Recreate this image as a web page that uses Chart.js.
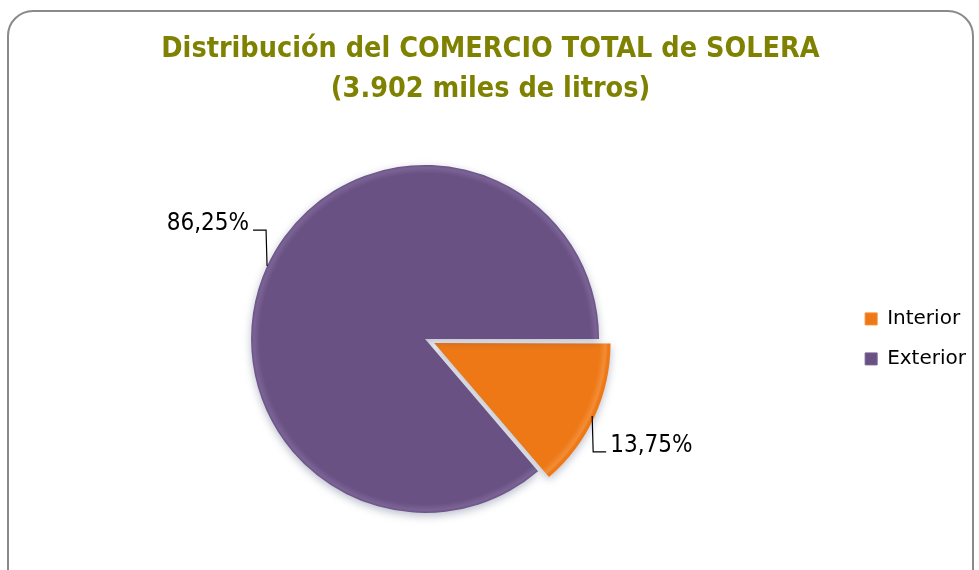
<!DOCTYPE html>
<html>
<head>
<meta charset="utf-8">
<title>Distribución del COMERCIO TOTAL de SOLERA</title>
<script src="https://cdn.jsdelivr.net/npm/chart.js@4/dist/chart.umd.min.js"></script>
<style>
  html, body { margin: 0; padding: 0; background: #fff; overflow: hidden; }
  #frame {
    position: absolute; left: 7px; top: 10px;
    width: 963px; height: 590px;
    border: 2px solid #8a8a8a; border-radius: 26px;
  }
  #the_chart { position: absolute; left: 0; top: 0; }
</style>
</head>
<body>
<div id="frame"></div>
<canvas id="the_chart" width="979" height="570"></canvas>
<script>
// chart data
const categories = ['Interior', 'Exterior'];
const shares = [13.75, 86.25]; // % of 3.902 miles de litros
const sliceColors = ['#EE7815', '#6A5183'];
const rimColors = ['#F28D36', '#7A6396'];
const sliceOffsets = [40, 0]; // Interior is pulled out (chart.js moves it offset/4)

const titleLines = ['Distribución del COMERCIO TOTAL de SOLERA', '(3.902 miles de litros)'];

const pieRadius = 174;

// bevel look: flat colour with a soft lighter rim
function sliceFill(context) {
    const chart = context.chart;
    const i = context.dataIndex;
    const area = chart.chartArea;
    if (!area) return sliceColors[i];
    const cx = (area.left + area.right) / 2;
    const cy = (area.top + area.bottom) / 2;
    const g = chart.ctx.createRadialGradient(cx, cy, 0, cx, cy, pieRadius);
    g.addColorStop(0, sliceColors[i]);
    g.addColorStop(0.95, sliceColors[i]);
    g.addColorStop(0.985, rimColors[i]);
    g.addColorStop(1, sliceColors[i]);
    return g;
}

// Excel style labels with a bent leader line
const pieLabels = {
    id: 'pieLabels',
    afterDatasetsDraw(chart) {
        const ctx = chart.ctx;
        const meta = chart.getDatasetMeta(0);
        ctx.save();
        ctx.font = '24px "DejaVu Sans Condensed"';
        ctx.fillStyle = '#000';
        ctx.strokeStyle = '#000';
        ctx.lineWidth = 1.2;
        ctx.textBaseline = 'middle';
        meta.data.forEach((arc, i) => {
            const p = arc.getProps(['x', 'y', 'startAngle', 'endAngle', 'outerRadius'], true);
            const mid = (p.startAngle + p.endAngle) / 2;
            const off = (arc.options.offset || 0) / 4;
            const cos = Math.cos(mid), sin = Math.sin(mid);
            const ex = p.x + cos * (off + p.outerRadius);
            const ey = p.y + sin * (off + p.outerRadius);
            const dirX = cos < 0 ? -1 : 1;
            const dirY = sin < 0 ? -1 : 1;
            const kx = ex + dirX * 1;
            const ky = ey + dirY * 36;
            const hx = kx + dirX * 13;
            ctx.beginPath();
            ctx.moveTo(ex, ey);
            ctx.lineTo(kx, ky);
            ctx.lineTo(hx, ky);
            ctx.stroke();
            const txt = shares[i].toFixed(2).replace('.', ',') + '%';
            ctx.textAlign = dirX < 0 ? 'right' : 'left';
            ctx.fillText(txt, hx + dirX * 4, ky - 6);
        });
        ctx.restore();
    }
};

// soft shadow under the pie
const pieShadow = {
    id: 'pieShadow',
    beforeDatasetsDraw(chart) {
        const ctx = chart.ctx;
        ctx.save();
        ctx.shadowColor = 'rgba(60, 70, 110, 0.35)';
        ctx.shadowBlur = 8;
        ctx.shadowOffsetY = 3;
    },
    afterDatasetsDraw(chart) {
        chart.ctx.restore();
    }
};

const theChart = new Chart(document.getElementById('the_chart'), {
    type: 'pie',
    data: {
        labels: categories,
        datasets: [{
            data: shares,
            backgroundColor: sliceFill,
            borderWidth: 0,
            offset: sliceOffsets
        }]
    },
    options: {
        responsive: false,
        animation: false,
        devicePixelRatio: 1,
        rotation: 90,
        radius: pieRadius,
        layout: { padding: { left: 5, right: 3, top: 0, bottom: 8 } },
        plugins: {
            title: {
                display: true,
                text: titleLines,
                color: '#7F8200',
                font: { family: '"DejaVu Sans Condensed"', size: 28.5, weight: 'bold', lineHeight: 1.4 },
                padding: { top: 30, bottom: 6 }
            },
            legend: {
                position: 'right',
                fullSize: false,
                labels: {
                    color: '#000',
                    font: { family: '"DejaVu Sans"', size: 20 },
                    boxWidth: 12,
                    boxHeight: 12,
                    padding: 20,
                    generateLabels(chart) {
                        return categories.map((c, i) => ({
                            text: c,
                            fillStyle: sliceColors[i],
                            strokeStyle: rimColors[i],
                            lineWidth: 1,
                            fontColor: '#000',
                            hidden: false,
                            index: i
                        }));
                    }
                }
            },
            tooltip: { enabled: false }
        }
    },
    plugins: [pieShadow, pieLabels]
});
</script>
</body>
</html>
